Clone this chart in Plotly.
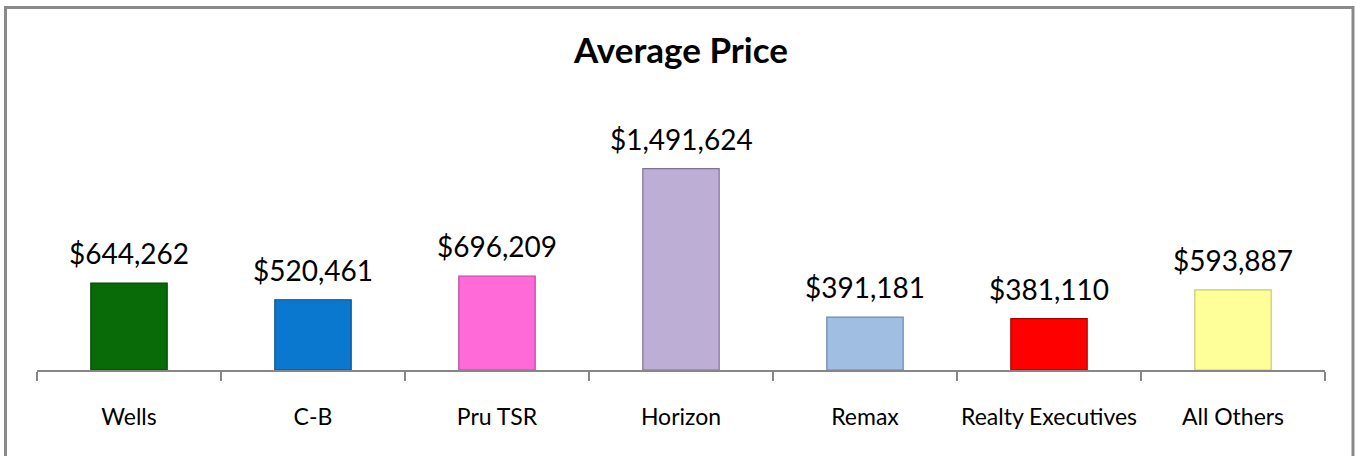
import plotly.graph_objects as go

categories = ["Wells", "C-B", "Pru TSR", "Horizon", "Remax", "Realty Executives", "All Others"]
avg_price = [644262, 520461, 696209, 1491624, 391181, 381110, 593887]
bar_colors = ["#086B08", "#0B78D0", "#FF6AD8", "#BDAED5", "#9FBEE2", "#FF0000", "#FFFF99"]
edge_colors = ["#034503", "#0A4E88", "#B84A9C", "#80709A", "#6A88AE", "#A80000", "#C9C973"]
title_text = "Average Price"

W, H = 1356, 456
L, R, T, B = 37, 1325, 154, 370


def px(x):
    return (x - L) / (R - L)


def py(y):
    return (B - y) / (B - T)


fig = go.Figure()
fig.add_trace(go.Bar(
    x=categories,
    y=avg_price,
    width=0.415,
    marker=dict(color=bar_colors, line=dict(color=edge_colors, width=1.2)),
    hoverinfo="skip",
))

for c, v in zip(categories, avg_price):
    fig.add_annotation(
        x=c, y=v, text=f"${v:,.0f}", showarrow=False,
        yanchor="bottom", yshift=11,
        font=dict(family="Lato, Open Sans, sans-serif", size=28, color="#000000"),
    )

fig.add_shape(
    type="rect", xref="paper", yref="paper",
    x0=px(5.5), x1=px(1353), y0=py(7.5), y1=py(460),
    line=dict(color="#8A8A8A", width=3), fillcolor="rgba(0,0,0,0)", layer="below",
)

fig.update_layout(
    width=W, height=H,
    autosize=False,
    margin=dict(l=L, r=W - R, t=T, b=H - B, pad=0, autoexpand=False),
    paper_bgcolor="white", plot_bgcolor="white",
    showlegend=False,
    title=dict(
        text=title_text, x=0.5, xref="paper", xanchor="center",
        y=1 - 51 / H, yref="container", yanchor="middle",
        font=dict(family="Lato, Open Sans, sans-serif", size=35, color="#000000", weight="bold"),
    ),
    bargap=0.585,
)
fig.update_xaxes(
    range=[-0.5, 6.5],
    showline=True, linecolor="#868686", linewidth=2,
    ticks="outside", tickson="boundaries", ticklen=9, tickwidth=1.5, tickcolor="#868686",
    ticklabelstandoff=25, tickangle=0, automargin=False,
    tickfont=dict(family="Lato, Open Sans, sans-serif", size=23, color="#000000"),
    showgrid=False, zeroline=False, fixedrange=True,
)
fig.update_yaxes(
    range=[0, 1600000], visible=False, showgrid=False, zeroline=False, fixedrange=True,
    automargin=False,
)

fig.write_html("out.html", config={"displayModeBar": False, "responsive": False})

with open("out.html", "r", encoding="utf-8") as f:
    html = f.read()
html = html.replace("<body>", '<body style="margin:0;padding:0;">', 1)
with open("out.html", "w", encoding="utf-8") as f:
    f.write(html)
